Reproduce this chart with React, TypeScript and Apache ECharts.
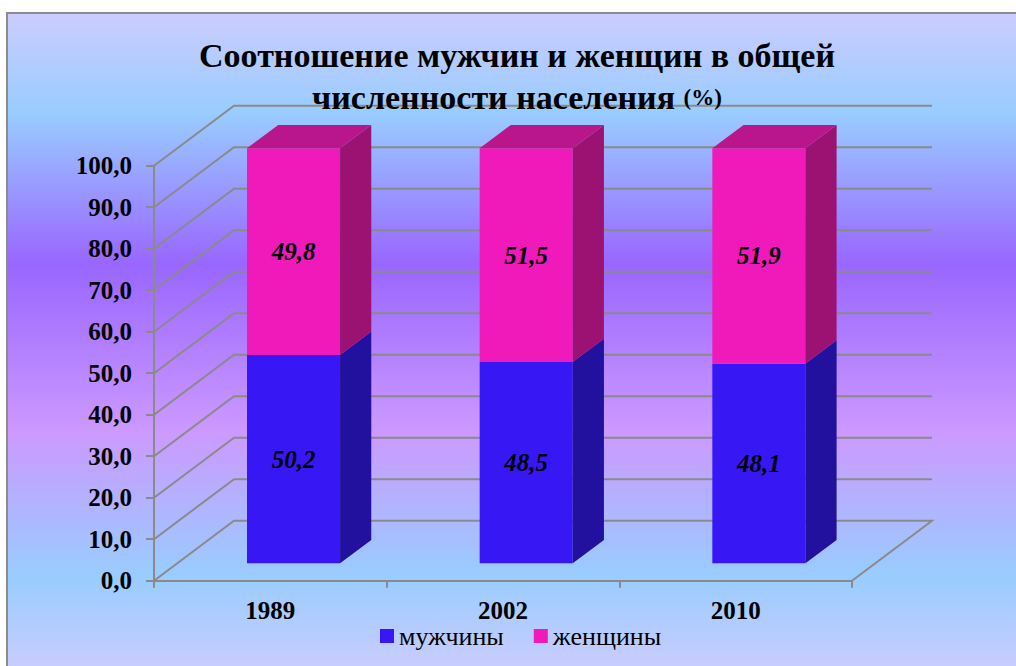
import React, { useEffect, useRef } from "react";
import * as echarts from "echarts";

const categories = ["1989", "2002", "2010"];
const menValues = [50.2, 48.5, 48.1];
const womenValues = [49.8, 51.5, 51.9];
const gridValues = [0, 10, 20, 30, 40, 50, 60, 70, 80, 90, 100];
const seriesNames = ["мужчины", "женщины"];

const FONT = "Liberation Serif, DejaVu Serif, serif";
const DX = 80;
const DY = -60;
const F0 = 0.29;
const FD = 0.39;
const GRID_COLOR = "#8a8a8a";

const fmt = (v: number) => v.toFixed(1).replace(".", ",");

function makeBarRender(showTop: boolean, front: string, side: string, top: string) {
  return (params: any, api: any) => {
    const idx = api.value(0);
    const lo = api.value(1);
    const hi = api.value(2);
    const val = api.value(3);
    const pLo = api.coord([idx, lo]);
    const pHi = api.coord([idx, hi]);
    const band = api.size([1, 0])[0];
    const bw = band * 0.4;
    const fx = DX * F0;
    const fy = DY * F0;
    const bx = DX * FD;
    const by = DY * FD;
    const xL = pLo[0] - bw / 2 + fx;
    const xR = xL + bw;
    const yB = pLo[1] + fy;
    const yT = pHi[1] + fy;
    const children: any[] = [
      { type: "rect", shape: { x: xL, y: yT, width: bw, height: yB - yT }, style: { fill: front } },
      {
        type: "polygon",
        shape: { points: [[xR, yT], [xR + bx, yT + by], [xR + bx, yB + by], [xR, yB]] },
        style: { fill: side },
      },
    ];
    if (showTop) {
      children.push({
        type: "polygon",
        shape: { points: [[xL, yT], [xR, yT], [xR + bx, yT + by], [xL + bx, yT + by]] },
        style: { fill: top },
      });
    }
    children.push({
      type: "text",
      x: (xL + xR) / 2,
      y: (yT + yB) / 2,
      style: {
        text: fmt(val),
        fontSize: 25,
        fontWeight: "bold",
        fontStyle: "italic",
        fontFamily: FONT,
        fill: "#000",
        align: "center",
        verticalAlign: "middle",
      },
    });
    return { type: "group", children };
  };
}

function wallRender(params: any, api: any) {
  const v = api.value(1);
  const cs = params.coordSys;
  const y = api.coord([0, v])[1];
  const l = cs.x;
  const r = cs.x + cs.width;
  const pts: number[][] = [[l, y], [l + DX, y + DY], [r + DX, y + DY]];
  if (v === 0) pts.push([r, y]);
  return {
    type: "polyline",
    shape: { points: pts },
    style: { stroke: GRID_COLOR, lineWidth: 2, fill: null },
  };
}

export default function App() {
  const ref = useRef<HTMLDivElement>(null);
  useEffect(() => {
    if (!ref.current) return;
    const chart = echarts.init(ref.current, null, { renderer: "svg" });
    const menData = categories.map((_, i) => [i, 0, menValues[i], menValues[i]]);
    const womenData = categories.map((_, i) => [
      i,
      menValues[i],
      menValues[i] + womenValues[i],
      womenValues[i],
    ]);
    chart.setOption({
      animation: false,
      backgroundColor: "#ffffff",
      textStyle: { fontFamily: FONT },
      graphic: [
        {
          type: "rect",
          z: -100,
          shape: { x: 7, y: 13, width: 1030, height: 670 },
          style: {
            fill: {
              type: "linear",
              x: 0,
              y: 0,
              x2: 0,
              y2: 1,
              colorStops: [
                { offset: 0, color: "#CCCCFF" },
                { offset: 0.15, color: "#99CCFF" },
                { offset: 0.375, color: "#9966FF" },
                { offset: 0.625, color: "#CC99FF" },
                { offset: 0.84, color: "#99CCFF" },
                { offset: 0.985, color: "#CCCCFF" },
                { offset: 1, color: "#CCCCFF" },
              ],
            },
            stroke: "#8c8c8c",
            lineWidth: 2,
          },
        },
      ],
      title: {
        text: "Соотношение мужчин и женщин в общей\nчисленности населения {s|(%)}",
        left: 517,
        top: 34,
        textAlign: "center",
        padding: 0,
        textStyle: {
          fontFamily: FONT,
          fontSize: 34,
          fontWeight: "bold",
          color: "#000",
          lineHeight: 42,
          rich: {
            s: { fontFamily: FONT, fontSize: 23, fontWeight: "bold", color: "#000", lineHeight: 42 },
          },
        },
      },
      legend: {
        data: seriesNames,
        left: 380,
        top: 623,
        padding: 0,
        itemGap: 30,
        itemWidth: 14,
        itemHeight: 14,
        icon: "rect",
        textStyle: { fontFamily: FONT, fontSize: 26, color: "#000" },
      },
      grid: { left: 154, right: 164, top: 165.7, bottom: 85.3, containLabel: false },
      xAxis: {
        type: "category",
        data: categories,
        boundaryGap: true,
        axisLine: { show: true, lineStyle: { color: GRID_COLOR, width: 2 } },
        axisTick: { show: true, length: 7, lineStyle: { color: GRID_COLOR, width: 2 } },
        axisLabel: {
          margin: 17,
          fontFamily: FONT,
          fontSize: 25,
          fontWeight: "bold",
          color: "#000",
        },
        splitLine: { show: false },
      },
      yAxis: {
        type: "value",
        min: 0,
        max: 100,
        interval: 10,
        axisLine: { show: true, lineStyle: { color: GRID_COLOR, width: 2 } },
        axisTick: { show: true, length: 8, lineStyle: { color: GRID_COLOR, width: 2 } },
        axisLabel: {
          margin: 22,
          fontFamily: FONT,
          fontSize: 25,
          fontWeight: "bold",
          color: "#000",
          formatter: (v: number) => fmt(v),
        },
        splitLine: { show: false },
      },
      series: [
        {
          type: "custom",
          name: "walls",
          z: 1,
          clip: false,
          silent: true,
          renderItem: wallRender,
          encode: { x: 0, y: 1 },
          data: gridValues.map((v) => [0, v]),
        },
        {
          type: "custom",
          name: seriesNames[0],
          z: 3,
          clip: false,
          itemStyle: { color: "#3718F5" },
          renderItem: makeBarRender(false, "#3718F5", "#22109E", "#2A14C0"),
          encode: { x: 0, y: [1, 2] },
          data: menData,
        },
        {
          type: "custom",
          name: seriesNames[1],
          z: 4,
          clip: false,
          itemStyle: { color: "#F01ABA" },
          renderItem: makeBarRender(true, "#F01ABA", "#9B1273", "#B9168C"),
          encode: { x: 0, y: [1, 2] },
          data: womenData,
        },
      ],
    });
    return () => chart.dispose();
  }, []);
  return (
    <div
      ref={ref}
      style={{ position: "absolute", left: 0, top: 0, width: 1016, height: 666 }}
    />
  );
}
